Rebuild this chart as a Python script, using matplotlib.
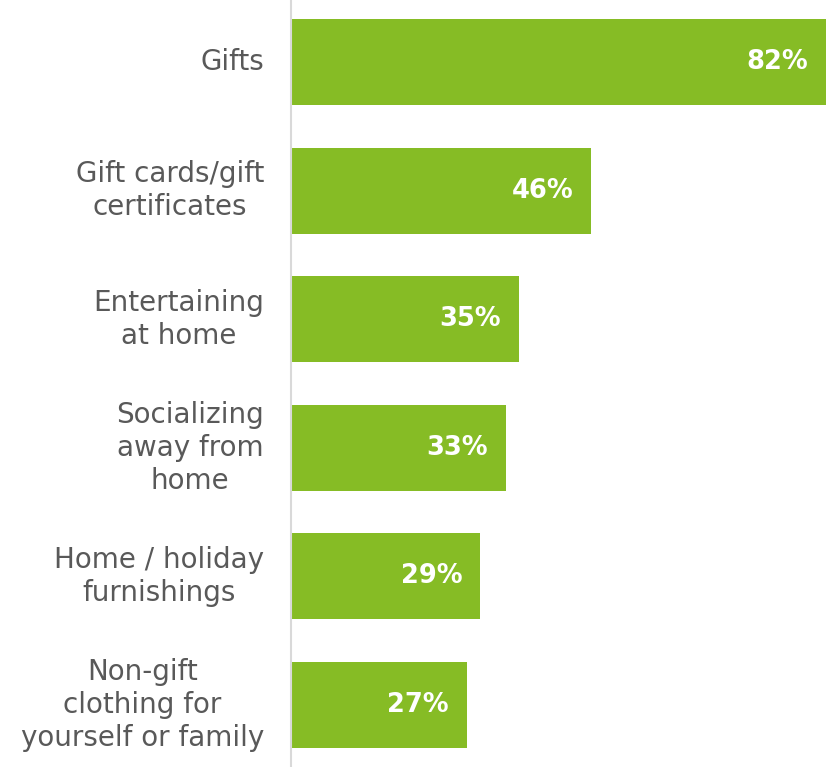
import matplotlib
matplotlib.use("Agg")
import matplotlib.pyplot as plt

plt.rcParams["font.family"] = ["DejaVu Sans"]

# Share of respondents planning to spend, by category
categories = [
    "Gifts",
    "Gift cards/gift\ncertificates",
    "Entertaining\nat home",
    "Socializing\naway from\nhome",
    "Home / holiday\nfurnishings",
    "Non-gift\nclothing for\nyourself or family",
]
shares = [82, 46, 35, 33, 29, 27]

GREEN = "#86BC25"
LABEL_GREY = "#595959"
AXIS_GREY = "#D9D9D9"

fig = plt.figure(figsize=(8.31, 7.67), dpi=100)
ax = fig.add_axes([291 / 831, 0, 540 / 831, 1])

ypos = list(range(len(categories)))
bars = ax.barh(ypos, shares, height=0.67, color=GREEN)

ax.set_xlim(0, 82 * 540 / 535)
ax.set_ylim(5 + 62 / 128.6, -62 / 128.6)

ax.set_yticks(ypos)
ax.set_yticklabels(categories, fontsize=20, color=LABEL_GREY,
                   family="DejaVu Sans", linespacing=1.24,
                   ha="right", va="center", multialignment="center")
ax.tick_params(axis="y", length=0, pad=19.5)
ax.set_xticks([])

for side in ["top", "right", "bottom"]:
    ax.spines[side].set_visible(False)
ax.spines["left"].set_color(AXIS_GREY)
ax.spines["left"].set_linewidth(1.5)

# value labels inside the bar ends
for bar, v in zip(bars, shares):
    ax.annotate(f"{v}%", (v, bar.get_y() + bar.get_height() / 2),
                xytext=(-13, 0), textcoords="offset points",
                ha="right", va="center", color="white",
                family="DejaVu Sans", fontsize=18.5, fontweight="bold")

fig.savefig("out.png", dpi=100)
